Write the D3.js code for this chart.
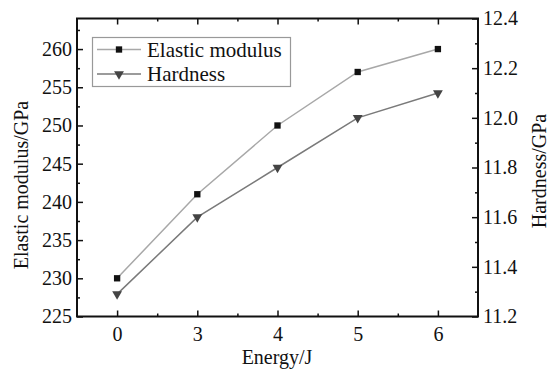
<!DOCTYPE html>
<html>
<head>
<meta charset="utf-8">
<script src="https://cdn.jsdelivr.net/npm/d3@7"></script>
<style>
  html, body { margin: 0; padding: 0; background: #fff; }
  svg text { font-family: "Liberation Serif", "Times New Roman", serif !important; }
</style>
</head>
<body>
<svg id="chart" width="550" height="369"></svg>
<script>
// Impact energy levels (categorical x axis)
const energies = ["0", "3", "4", "5", "6"];
// Elastic modulus (GPa), left axis
const elasticModulus = [230, 241, 250, 257, 260];
// Hardness (GPa), right axis
const hardness = [11.29, 11.6, 11.8, 12.0, 12.1];
// Axis tick values
const leftTicks = [225, 230, 235, 240, 245, 250, 255, 260];
const rightTicks = [11.2, 11.4, 11.6, 11.8, 12.0, 12.2, 12.4];

const svg = d3.select("#chart");
const m = { left: 77, right: 478, top: 18.5, bottom: 316.5 };

const x = d3.scaleLinear().domain([-0.5, energies.length - 0.5]).range([m.left, m.right]);
const yL = d3.scaleLinear().domain([225, 264]).range([m.bottom, m.top]);
const yR = d3.scaleLinear().domain([11.2, 12.4]).range([m.bottom, m.top]);

const tickFont = 20;

// Bottom axis: labels + major ticks (inward) at categories, minor ticks between
const gB = svg.append("g").attr("transform", `translate(0,${m.bottom})`);
gB.call(d3.axisBottom(x).tickValues(d3.range(energies.length)).tickSize(-6).tickPadding(10)
  .tickFormat(i => energies[i]));
gB.append("g").call(d3.axisBottom(x).tickValues(d3.range(0.5, energies.length - 1, 1)).tickSize(-3).tickFormat(""));
// Top axis (mirrored ticks, no labels)
const gT = svg.append("g").attr("transform", `translate(0,${m.top})`);
gT.call(d3.axisTop(x).tickValues(d3.range(energies.length)).tickSize(-6).tickFormat(""));
gT.append("g").call(d3.axisTop(x).tickValues(d3.range(0.5, energies.length - 1, 1)).tickSize(-3).tickFormat(""));

// Left axis
const gL = svg.append("g").attr("transform", `translate(${m.left},0)`);
gL.call(d3.axisLeft(yL).tickValues(leftTicks).tickSize(-6).tickPadding(5).tickFormat(d3.format("d")));
gL.append("g").call(d3.axisLeft(yL).tickValues(d3.range(227.5, 264, 5)).tickSize(-3).tickFormat(""));

// Right axis
const gR = svg.append("g").attr("transform", `translate(${m.right},0)`);
gR.call(d3.axisRight(yR).tickValues(rightTicks).tickSize(-6).tickPadding(5).tickFormat(d3.format(".1f")));
gR.append("g").call(d3.axisRight(yR).tickValues([11.3, 11.5, 11.7, 11.9, 12.1, 12.3]).tickSize(-3).tickFormat(""));

svg.selectAll(".domain").remove();
svg.selectAll(".tick line").attr("stroke", "#111").attr("stroke-width", 1.5);
svg.selectAll(".tick text").attr("font-size", tickFont).attr("fill", "#111");

// Frame
svg.append("rect")
  .attr("x", m.left).attr("y", m.top)
  .attr("width", m.right - m.left).attr("height", m.bottom - m.top)
  .attr("fill", "none").attr("stroke", "#111").attr("stroke-width", 2);

// Series
const eLine = d3.line().x((d, i) => x(i)).y(d => yL(d));
const hLine = d3.line().x((d, i) => x(i)).y(d => yR(d));
const eColor = "#a8a8a8", hColor = "#7a7a7a";

svg.append("path").datum(elasticModulus).attr("d", eLine)
  .attr("fill", "none").attr("stroke", eColor).attr("stroke-width", 1.5);
svg.append("path").datum(hardness).attr("d", hLine)
  .attr("fill", "none").attr("stroke", hColor).attr("stroke-width", 1.5);

const sq = d3.symbol().type(d3.symbolSquare).size(40);
const tri = d3.symbol().type(d3.symbolTriangle).size(42);

svg.selectAll(".em").data(elasticModulus).join("path")
  .attr("transform", (d, i) => `translate(${x(i)},${yL(d)})`)
  .attr("d", sq).attr("fill", "#111");
svg.selectAll(".hd").data(hardness).join("path")
  .attr("transform", (d, i) => `translate(${x(i)},${yR(d)}) rotate(180)`)
  .attr("d", tri).attr("fill", "#444");

// Axis titles
svg.append("text").attr("x", 277).attr("y", 364).attr("text-anchor", "middle")
  .attr("font-size", 20).attr("fill", "#111").text("Energy/J");
svg.append("text").attr("transform", "translate(28,185) rotate(-90)").attr("text-anchor", "middle")
  .attr("font-size", 20).attr("fill", "#111").text("Elastic modulus/GPa");
svg.append("text").attr("transform", "translate(546,171) rotate(-90)").attr("text-anchor", "middle")
  .attr("font-size", 20).attr("fill", "#111").text("Hardness/GPa");

// Legend
const lg = svg.append("g");
lg.append("rect").attr("x", 92.5).attr("y", 37.5).attr("width", 198).attr("height", 49)
  .attr("fill", "#fff").attr("stroke", "#999").attr("stroke-width", 1.2);
const items = [
  { name: "Elastic modulus", color: eColor, sym: sq, rot: 0, fill: "#111", y: 49.5 },
  { name: "Hardness", color: hColor, sym: tri, rot: 180, fill: "#444", y: 74 }
];
items.forEach(it => {
  lg.append("line").attr("x1", 97).attr("x2", 141).attr("y1", it.y).attr("y2", it.y)
    .attr("stroke", it.color).attr("stroke-width", 1.5);
  lg.append("path").attr("transform", `translate(119,${it.y}) rotate(${it.rot})`)
    .attr("d", it.sym).attr("fill", it.fill);
  lg.append("text").attr("x", 147).attr("y", it.y).attr("dy", "0.35em")
    .attr("font-size", 21).attr("fill", "#111").text(it.name);
});
</script>
</body>
</html>
